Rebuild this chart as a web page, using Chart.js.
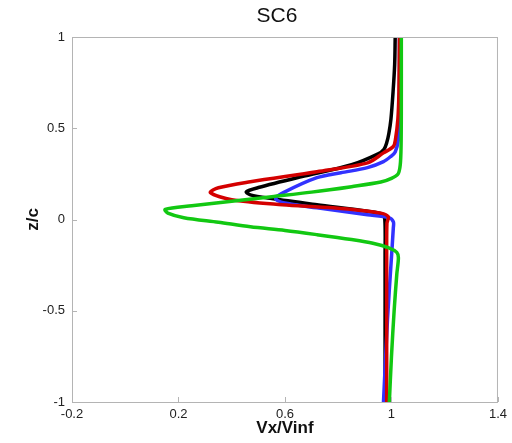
<!DOCTYPE html>
<html lang="en">
<head>
    <meta charset="UTF-8">
    <title>SC6</title>
    <style>
        html, body { margin: 0; padding: 0; background: #fff; }
        .chart-box { width: 512px; height: 443px; }
    </style>
    <script src="https://cdn.jsdelivr.net/npm/chart.js"></script>
</head>
<body>
    <div class="chart-box">
        <canvas id="sc6Chart"></canvas>
    </div>

    <script>
        // Wake profiles, Vx/Vinf against z/c
        var blackVx = [1.014, 1.012, 1.006, 0.998, 0.99, 0.982, 0.972, 0.95, 0.85, 0.66, 0.5, 0.455, 0.47, 0.55, 0.72, 0.91, 0.965, 0.975, 0.976, 0.976, 0.976];
        var blackZ  = [1, 0.85, 0.7, 0.55, 0.47, 0.42, 0.385, 0.36, 0.3, 0.234, 0.175, 0.152, 0.135, 0.115, 0.081, 0.045, 0.03, 0.0, -0.2, -0.6, -1];

        var redVx = [1.03, 1.028, 1.024, 1.015, 1.007, 0.97, 0.91, 0.72, 0.47, 0.35, 0.32, 0.40, 0.59, 0.78, 0.96, 0.988, 0.983, 0.982, 0.982, 0.982];
        var redZ  = [1, 0.7, 0.55, 0.44, 0.4, 0.365, 0.31, 0.262, 0.207, 0.174, 0.147, 0.108, 0.081, 0.064, 0.035, 0.015, -0.02, -0.2, -0.5, -1];

        var blueVx = [1.03, 1.03, 1.029, 1.026, 1.014, 0.996, 0.97, 0.91, 0.81, 0.72, 0.594, 0.565, 0.594, 0.72, 0.91, 0.99, 1.007, 1.007, 0.998, 0.985, 0.97];
        var blueZ  = [1, 0.7, 0.55, 0.44, 0.37, 0.344, 0.317, 0.284, 0.256, 0.229, 0.147, 0.114, 0.092, 0.064, 0.026, 0.01, -0.012, -0.045, -0.25, -0.55, -1];

        var greenVx = [1.037, 1.037, 1.036, 1.033, 1.025, 1.0, 0.96, 0.85, 0.70, 0.55, 0.40, 0.25, 0.15, 0.16, 0.22, 0.35, 0.47, 0.60, 0.72, 0.85, 0.93, 0.99, 1.02, 1.026, 1.02, 1.01, 1.0, 0.992];
        var greenZ  = [1, 0.6, 0.4, 0.3, 0.25, 0.225, 0.205, 0.18, 0.15, 0.125, 0.1, 0.075, 0.055, 0.035, 0.01, -0.015, -0.04, -0.06, -0.083, -0.11, -0.13, -0.155, -0.18, -0.21, -0.3, -0.5, -0.75, -1];

        var xTicks = [-0.2, 0.2, 0.6, 1, 1.4];
        var yTicks = [-1, -0.5, 0, 0.5, 1];

        function toPoints(vx, z) {
            return vx.map(function (v, i) { return { x: v, y: z[i] }; });
        }

        function profile(vx, z, color) {
            return {
                data: toPoints(vx, z),
                borderColor: color,
                borderWidth: 3.5,
                showLine: true,
                pointRadius: 0,
                tension: 0.3,
                fill: false
            };
        }

        // plain labels: 1 instead of 1.0
        function plainLabel(value) {
            return String(Math.round(value * 10) / 10);
        }

        // Box round the plot, inward tick marks and the title
        var framePlugin = {
            id: 'framePlugin',
            afterDraw: function (chart) {
                var ctx = chart.ctx;
                var a = chart.chartArea;
                var xs = chart.scales.x, ys = chart.scales.y;
                ctx.save();
                ctx.strokeStyle = '#b4b4b4';
                ctx.lineWidth = 1;
                ctx.strokeRect(a.left + 0.5, a.top + 0.5, a.right - a.left - 1, a.bottom - a.top);
                ctx.beginPath();
                xTicks.forEach(function (t) {
                    var px = Math.round(xs.getPixelForValue(t)) + 0.5;
                    ctx.moveTo(px, a.bottom);
                    ctx.lineTo(px, a.bottom - 5);
                });
                yTicks.forEach(function (t) {
                    var py = Math.round(ys.getPixelForValue(t)) + 0.5;
                    ctx.moveTo(a.left, py);
                    ctx.lineTo(a.left + 5, py);
                });
                ctx.stroke();
                ctx.fillStyle = '#111';
                ctx.font = '21px "Liberation Sans", Arial, sans-serif';
                ctx.textAlign = 'center';
                ctx.textBaseline = 'middle';
                ctx.fillText('SC6', 277, 16);
                ctx.restore();
            }
        };

        var tickFont = { family: '"Liberation Sans", Arial, sans-serif', size: 13 };
        var titleFont = { family: '"Liberation Sans", Arial, sans-serif', size: 17, weight: 'bold' };

        var options = {
            responsive: true,
            maintainAspectRatio: false,
            animation: false,
            layout: { padding: { top: 37, right: 14, left: 0, bottom: 0 } },
            plugins: {
                legend: { display: false },
                title: { display: false },
                tooltip: { enabled: false }
            },
            scales: {
                x: {
                    type: 'linear',
                    min: -0.2,
                    max: 1.4,
                    afterBuildTicks: function (s) { s.ticks = xTicks.map(function (v) { return { value: v }; }); },
                    afterFit: function (s) { s.height = 41; },
                    grid: { display: false, drawTicks: false },
                    border: { display: false },
                    ticks: { color: '#222', font: tickFont, padding: 5, maxRotation: 0, callback: plainLabel },
                    title: { display: true, text: 'Vx/Vinf', color: '#111', font: titleFont, padding: { top: 9 } }
                },
                y: {
                    type: 'linear',
                    min: -1,
                    max: 1,
                    afterBuildTicks: function (s) { s.ticks = yTicks.map(function (v) { return { value: v }; }); },
                    afterFit: function (s) { s.width = 72; },
                    grid: { display: false, drawTicks: false },
                    border: { display: false },
                    ticks: { color: '#222', font: tickFont, padding: 7, callback: plainLabel },
                    title: { display: true, text: 'z/c', color: '#111', font: titleFont, padding: { top: 23 } }
                }
            }
        };

        // first dataset is drawn on top
        var ctx = document.getElementById('sc6Chart').getContext('2d');
        new Chart(ctx, {
            type: 'scatter',
            data: {
                datasets: [
                    profile(greenVx, greenZ, '#12c812'),
                    profile(redVx, redZ, '#d40000'),
                    profile(blueVx, blueZ, '#3232ff'),
                    profile(blackVx, blackZ, '#000000')
                ]
            },
            options: options,
            plugins: [framePlugin]
        });
    </script>
</body>
</html>
